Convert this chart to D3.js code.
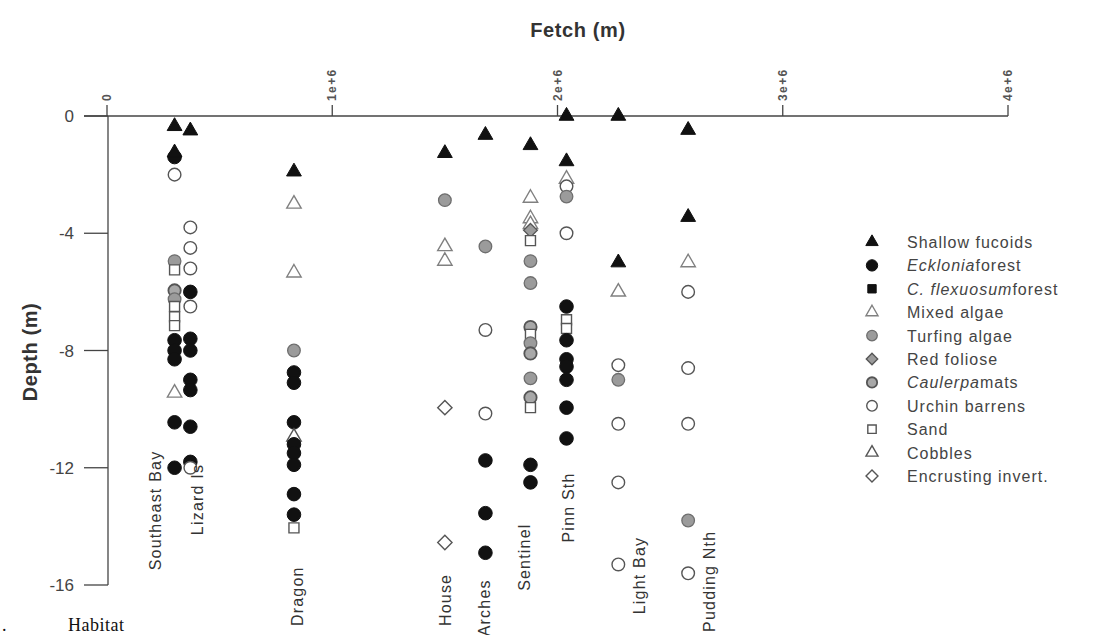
<!DOCTYPE html>
<html>
<head>
<meta charset="utf-8">
<script src="https://cdn.jsdelivr.net/npm/d3@7"></script>
<style>
  html, body { margin: 0; padding: 0; background: #fff; }
  svg { display: block; font-family: "Liberation Sans", Arial, sans-serif; }
</style>
</head>
<body>
<div id="chart"></div>
<script>
// habitat categories (legend order)
const habitatKeys = ['fuc', 'eck', 'cfl', 'mix', 'turf', 'red', 'caul', 'urch', 'sand', 'cob', 'enc']
const habitatLabels = [
  [['Shallow fucoids', false]],
  [['Ecklonia', true], ['forest', false]],
  [['C. flexuosum', true], ['forest', false]],
  [['Mixed algae', false]],
  [['Turfing algae', false]],
  [['Red foliose', false]],
  [['Caulerpa', true], ['mats', false]],
  [['Urchin barrens', false]],
  [['Sand', false]],
  [['Cobbles', false]],
  [['Encrusting invert.', false]]
]

// sites and their fetch (m)
const siteNames = ['Southeast Bay', 'Lizard Is', 'Dragon', 'House', 'Arches', 'Sentinel', 'Pinn Sth', 'Light Bay', 'Pudding Nth']
const siteFetch = [0.30e6, 0.37e6, 0.83e6, 1.50e6, 1.68e6, 1.88e6, 2.04e6, 2.27e6, 2.58e6]

// habitat observations per site: [habitat, depth (m)]
const southeastBay = [['fuc', -0.35], ['eck', -1.4], ['fuc', -1.25], ['urch', -2.0], ['turf', -4.95], ['sand', -5.25],
  ['caul', -5.95], ['turf', -6.25], ['sand', -6.5], ['sand', -6.85], ['sand', -7.15], ['eck', -7.65], ['eck', -8.0],
  ['eck', -8.3], ['mix', -9.45], ['eck', -10.45], ['eck', -12.0]]
const lizardIs = [['fuc', -0.5], ['urch', -3.8], ['urch', -4.5], ['urch', -5.2], ['eck', -6.0], ['urch', -6.5],
  ['eck', -7.6], ['eck', -8.0], ['eck', -9.0], ['eck', -9.35], ['eck', -10.6], ['eck', -11.8], ['urch', -12.0]]
const dragon = [['fuc', -1.9], ['mix', -3.0], ['mix', -5.35], ['turf', -8.0], ['eck', -8.75], ['eck', -9.1],
  ['eck', -10.45], ['cob', -10.95], ['eck', -11.2], ['eck', -11.5], ['eck', -11.9], ['eck', -12.9], ['eck', -13.6], ['sand', -14.05]]
const house = [['fuc', -1.27], ['turf', -2.87], ['mix', -4.45], ['mix', -4.95], ['enc', -9.95], ['enc', -14.55]]
const arches = [['fuc', -0.65], ['turf', -4.45], ['urch', -7.3], ['urch', -10.15], ['eck', -11.75], ['eck', -13.55], ['eck', -14.9]]
const sentinel = [['fuc', -1.0], ['mix', -2.8], ['mix', -3.5], ['mix', -3.7], ['red', -3.9], ['sand', -4.25], ['turf', -4.95],
  ['turf', -5.7], ['caul', -7.2], ['sand', -7.45], ['turf', -7.75], ['caul', -8.1], ['turf', -8.95], ['caul', -9.6],
  ['sand', -9.95], ['eck', -11.9], ['eck', -12.5]]
const pinnSth = [['fuc', 0.0], ['fuc', -1.55], ['mix', -2.15], ['urch', -2.4], ['turf', -2.75], ['urch', -4.0], ['eck', -6.5],
  ['sand', -6.95], ['sand', -7.25], ['eck', -7.65], ['eck', -8.3], ['eck', -8.55], ['eck', -9.0], ['eck', -9.95], ['eck', -11.0]]
const lightBay = [['fuc', 0.0], ['fuc', -5.0], ['mix', -6.0], ['urch', -8.5], ['turf', -9.0], ['urch', -10.5], ['urch', -12.5], ['urch', -15.3]]
const puddingNth = [['fuc', -0.48], ['fuc', -3.45], ['mix', -5.0], ['urch', -6.0], ['urch', -8.6], ['urch', -10.5], ['turf', -13.8], ['urch', -15.6]]

const siteObs = [southeastBay, lizardIs, dragon, house, arches, sentinel, pinnSth, lightBay, puddingNth]

// axis ticks
const fetchTicks = [0, 1e6, 2e6, 3e6, 4e6]
const depthTicks = [0, -4, -8, -12, -16]

// site label placement: bottom end of the rotated label (depth) and x offset in px
const labelDepth = [-15.5, -14.3, -17.4, -17.4, -17.75, -16.2, -14.55, -17.0, -17.6]
const labelDx = [-20, 7, 3, 0, -1, -6, 1, 21, 21]

const width = 1108
const height = 635

const svg = d3.select('#chart')
  .append('svg')
  .attr('width', width)
  .attr('height', height)

const x = d3.scaleLinear().domain([0, 4e6]).range([107, 1008])
const y = d3.scaleLinear().domain([0, -16]).range([116, 585])

// marker styles
const BLACK = '#111'
const GREY = '#9b9b9b'
const OUT = '#555'
const markerStyle = {
  fuc: { type: d3.symbolTriangle, size: 95, fill: BLACK, stroke: BLACK, sw: 1 },
  eck: { type: d3.symbolCircle, size: 145, fill: BLACK, stroke: BLACK, sw: 1 },
  cfl: { type: d3.symbolSquare, size: 100, fill: BLACK, stroke: BLACK, sw: 1 },
  mix: { type: d3.symbolTriangle, size: 90, fill: '#fff', stroke: '#808080', sw: 1.4 },
  turf: { type: d3.symbolCircle, size: 125, fill: GREY, stroke: '#6e6e6e', sw: 1.3 },
  red: { type: d3.symbolDiamond2, size: 120, fill: GREY, stroke: OUT, sw: 1.3 },
  caul: { type: d3.symbolCircle, size: 120, fill: '#a8a8a8', stroke: OUT, sw: 1.8 },
  urch: { type: d3.symbolCircle, size: 125, fill: '#fff', stroke: OUT, sw: 1.4 },
  sand: { type: d3.symbolSquare, size: 100, fill: '#fff', stroke: OUT, sw: 1.4 },
  cob: { type: d3.symbolTriangle, size: 90, fill: '#fff', stroke: OUT, sw: 1.4 },
  enc: { type: d3.symbolDiamond2, size: 130, fill: '#fff', stroke: OUT, sw: 1.4 }
}

const symbolPath = (key, scale = 1) =>
  d3.symbol().type(markerStyle[key].type).size(markerStyle[key].size * scale)()

// title
svg.append('text')
  .attr('x', 578).attr('y', 37)
  .attr('text-anchor', 'middle')
  .attr('font-size', 20).attr('font-weight', 'bold')
  .attr('letter-spacing', 0.6)
  .attr('fill', '#333')
  .text('Fetch (m)')

svg.append('text')
  .attr('transform', 'translate(37,352) rotate(-90)')
  .attr('text-anchor', 'middle')
  .attr('font-size', 20).attr('font-weight', 'bold')
  .attr('letter-spacing', 0.6)
  .attr('fill', '#333')
  .text('Depth (m)')

// top axis (at depth 0)
const gx = svg.append('g').attr('transform', `translate(0,${y(0)})`)
gx.append('line')
  .attr('x1', 84).attr('x2', x(4e6))
  .attr('stroke', '#444').attr('stroke-width', 1.3)
gx.selectAll('line.tick')
  .data(fetchTicks)
  .join('line')
  .attr('class', 'tick')
  .attr('x1', d => x(d)).attr('x2', d => x(d))
  .attr('y1', 0).attr('y2', -11)
  .attr('stroke', '#444').attr('stroke-width', 1.3)
gx.selectAll('text')
  .data(fetchTicks)
  .join('text')
  .attr('transform', d => `translate(${x(d) + 4},-15) rotate(-90)`)
  .attr('font-size', 12).attr('font-weight', 'bold')
  .attr('letter-spacing', 1.4)
  .attr('fill', '#555')
  .text(d => d === 0 ? '0' : d3.format('.0e')(d))

// left axis (at fetch 0)
const gy = svg.append('g').attr('transform', `translate(${x(0) + 1},0)`)
gy.append('line')
  .attr('y1', y(0)).attr('y2', y(-16))
  .attr('stroke', '#444').attr('stroke-width', 1.3)
gy.selectAll('line.tick')
  .data(depthTicks)
  .join('line')
  .attr('class', 'tick')
  .attr('x1', 0).attr('x2', -24)
  .attr('y1', d => y(d)).attr('y2', d => y(d))
  .attr('stroke', '#444').attr('stroke-width', 1.3)
gy.selectAll('text')
  .data(depthTicks)
  .join('text')
  .attr('x', -34)
  .attr('y', d => y(d) + 6)
  .attr('text-anchor', 'end')
  .attr('font-size', 17)
  .attr('fill', '#444')
  .text(d => d)

// points
const gPts = svg.append('g')
siteObs.forEach((obs, i) => {
  gPts.selectAll(null)
    .data(obs)
    .join('path')
    .attr('transform', d => `translate(${x(siteFetch[i])},${y(d[1])})`)
    .attr('d', d => symbolPath(d[0]))
    .attr('fill', d => markerStyle[d[0]].fill)
    .attr('stroke', d => markerStyle[d[0]].stroke)
    .attr('stroke-width', d => markerStyle[d[0]].sw)
})

// site labels
svg.append('g')
  .selectAll('text')
  .data(siteNames)
  .join('text')
  .attr('transform', (d, i) => `translate(${x(siteFetch[i]) + labelDx[i] + 6},${y(labelDepth[i])}) rotate(-90)`)
  .attr('font-size', 16)
  .attr('letter-spacing', 1.2)
  .attr('fill', '#333')
  .text(d => d)

// legend
const legend = svg.append('g').attr('transform', 'translate(872,242)')
const rows = legend.selectAll('g')
  .data(habitatKeys)
  .join('g')
  .attr('transform', (d, i) => `translate(0,${i * 23.4})`)
rows.append('path')
  .attr('d', d => symbolPath(d, 0.7))
  .attr('fill', d => markerStyle[d].fill)
  .attr('stroke', d => markerStyle[d].stroke)
  .attr('stroke-width', d => markerStyle[d].sw)
rows.append('text')
  .attr('x', 35).attr('y', 6)
  .attr('font-size', 16)
  .attr('letter-spacing', 1)
  .attr('fill', '#444')
  .each(function (d, i) {
    d3.select(this).selectAll('tspan')
      .data(habitatLabels[i])
      .join('tspan')
      .attr('font-style', p => p[1] ? 'italic' : 'normal')
      .text(p => p[0])
  })

// caption fragment at bottom left (panel letter is cropped in the source, only its dot remains)
const caption = svg.append('g')
  .attr('font-family', '"Liberation Serif", "DejaVu Serif", serif')
  .attr('font-size', 18)
  .attr('fill', '#111')
caption.append('text').attr('x', 2).attr('y', 631).text('.')
caption.append('text').attr('x', 68).attr('y', 631).attr('letter-spacing', 0.5).text('Habitat')
</script>
</body>
</html>
